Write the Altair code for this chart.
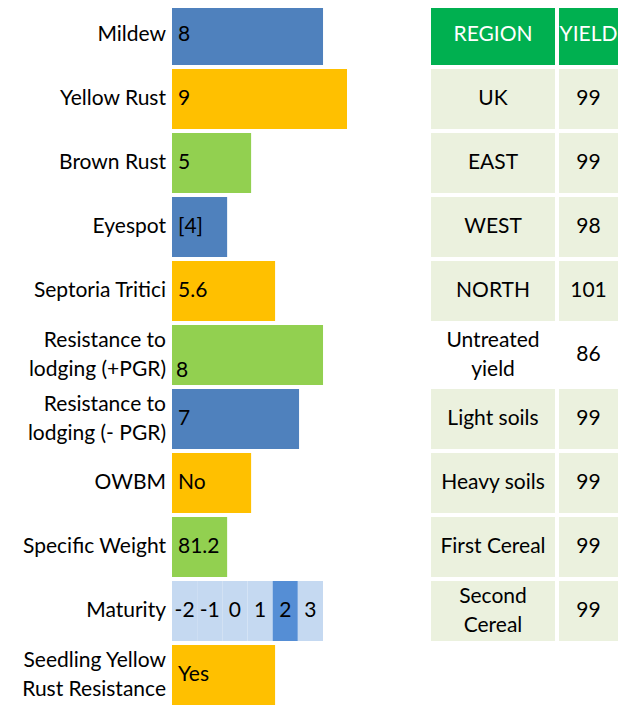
import altair as alt
import pandas as pd

# ---------------- data ----------------
categories = [
    "Mildew", "Yellow Rust", "Brown Rust", "Eyespot", "Septoria Tritici",
    "Resistance to\nlodging (+PGR)", "Resistance to\nlodging (- PGR)",
    "OWBM", "Specific Weight", "Maturity", "Seedling Yellow\nRust Resistance",
]
bar_scores = [8, 9, 5, 4, 6, 8, 7, 5, 4, None, 6]
value_labels = ["8", "9", "5", "[4]", "5.6", "8", "7", "No", "81.2", "", "Yes"]

maturity_steps = [-2, -1, 0, 1, 2, 3]
maturity_rating = 2

table_header = ["REGION", "YIELD"]
regions = ["UK", "EAST", "WEST", "NORTH", "Untreated\nyield", "Light soils",
           "Heavy soils", "First Cereal", "Second\nCereal"]
yields = [99, 99, 98, 101, 86, 99, 99, 99, 99]

# ---------------- styling ----------------
FONT = "Lato"
FS = 21
LH = 29
BLUE, GOLD, GREEN = "#4F81BD", "#FFC000", "#92D050"
MAT_LIGHT, MAT_DARK = "#C5D9F1", "#558ED5"
HEAD_FILL, BODY_FILL = "#00B050", "#EBF1DE"
P_IN, P_OUT = 0.0625, 0.03125
X0 = 1.7

left_df = pd.DataFrame({
    "cat": categories,
    "score": bar_scores,
    "label": value_labels,
    "idx": list(range(len(categories))),
})

y_left = alt.Y("cat:N", scale=alt.Scale(domain=categories, paddingInner=P_IN, paddingOuter=P_OUT),
               axis=None)

base_left = alt.Chart(left_df).transform_calculate(
    multi="indexof(datum.cat, '\\n') >= 0"
)

row_lab1 = base_left.transform_filter("!datum.multi").mark_text(
    align="right", baseline="middle", font=FONT, fontSize=FS, color="#000000").encode(
    x=alt.value(-6), y=y_left, text="cat:N")
row_lab2 = base_left.transform_filter("datum.multi").mark_text(
    align="right", baseline="middle", font=FONT, fontSize=FS, color="#000000",
    lineBreak="\n", lineHeight=LH, dy=-LH / 2).encode(
    x=alt.value(-6), y=y_left, text="cat:N")

bars = alt.Chart(left_df).transform_filter(
    "isValid(datum.score)"
).transform_calculate(
    fill=f"['{BLUE}', '{GOLD}', '{GREEN}'][datum.idx % 3]",
    base=f"{X0}",
).mark_bar().encode(
    x=alt.X("score:Q", scale=alt.Scale(domain=[X0, 9], range=[0, 175], zero=False), axis=None),
    x2="base:Q",
    y=y_left,
    color=alt.Color("fill:N", scale=None),
)

bar_text = alt.Chart(left_df).transform_filter(
    "datum.label != '' && datum.idx != 5"
).mark_text(align="left", baseline="middle", font=FONT, fontSize=FS, color="#000000").encode(
    x=alt.value(6),
    y=y_left,
    text="label:N",
)

pgr_text = alt.Chart(left_df).transform_filter(
    "datum.idx == 5"
).mark_text(align="left", baseline="middle", dy=16, font=FONT, fontSize=FS, color="#000000").encode(
    x=alt.value(4),
    y=y_left,
    text="label:N",
)

mat_df = pd.DataFrame({"step": maturity_steps, "cat": categories[9]})
mat_x = alt.X("step:O", scale=alt.Scale(domain=maturity_steps, range=[0, 151],
                                        paddingInner=0, paddingOuter=0), axis=None)
mat_rect = alt.Chart(mat_df).mark_rect().encode(
    x=mat_x,
    y=y_left,
    color=alt.condition(f"datum.step == {maturity_rating}", alt.value(MAT_DARK), alt.value(MAT_LIGHT)),
)
mat_text = alt.Chart(mat_df).mark_text(align="center", baseline="middle", font=FONT,
                                       fontSize=FS, color="#000000").encode(
    x=mat_x,
    y=y_left,
    text="step:N",
)
mat_layer = alt.layer(mat_rect, mat_text)

left = alt.layer(row_lab1, row_lab2, bars, bar_text, pgr_text, mat_layer).resolve_scale(x="independent")

# ---------------- table ----------------
tab_df = pd.DataFrame({
    "row": list(range(len(regions) + 1)),
    "region": [table_header[0]] + regions,
    "yield": [table_header[1]] + [str(v) for v in yields],
})

y_tab = alt.Y("row:O", scale=alt.Scale(domain=list(range(len(categories))),
                                       paddingInner=P_IN, paddingOuter=P_OUT), axis=None)

tab_base = alt.Chart(tab_df).transform_calculate(
    fill=f"datum.row == 0 ? '{HEAD_FILL}' : (indexof(datum.region, 'Untreated') >= 0 ? '#FFFFFF' : '{BODY_FILL}')",
    tcol="datum.row == 0 ? '#FFFFFF' : '#000000'",
    multi="indexof(datum.region, '\\n') >= 0",
)

reg_rect = tab_base.mark_rect().encode(
    x=alt.value(259), x2=alt.value(383), y=y_tab, color=alt.Color("fill:N", scale=None))
yld_rect = tab_base.mark_rect().encode(
    x=alt.value(387), x2=alt.value(446), y=y_tab, color=alt.Color("fill:N", scale=None))
reg_text1 = tab_base.transform_filter("!datum.multi").mark_text(
    align="center", baseline="middle", font=FONT, fontSize=FS).encode(
    x=alt.value(321), y=y_tab, text="region:N", color=alt.Color("tcol:N", scale=None))
reg_text2 = tab_base.transform_filter("datum.multi").mark_text(
    align="center", baseline="middle", font=FONT, fontSize=FS,
    lineBreak="\n", lineHeight=LH, dy=-LH / 2).encode(
    x=alt.value(321), y=y_tab, text="region:N", color=alt.Color("tcol:N", scale=None))
yld_text = tab_base.mark_text(align="center", baseline="middle", font=FONT, fontSize=FS).encode(
    x=alt.value(416.5), y=y_tab, text="yield:N", color=alt.Color("tcol:N", scale=None))

table = alt.layer(reg_rect, yld_rect, reg_text1, reg_text2, yld_text)

chart = alt.layer(left, table).resolve_scale(
    x="independent", y="independent"
).properties(
    width=452, height=704,
    autosize=alt.AutoSizeParams(type="none"),
    padding={"left": 164, "top": -5, "right": 0, "bottom": 0},
).configure_view(stroke=None)

chart.save("out.html", embed_options={"renderer": "svg", "actions": False})
